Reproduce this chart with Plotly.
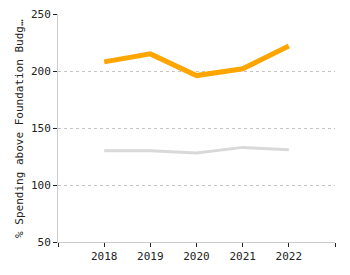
import plotly.graph_objects as go

years = [2018, 2019, 2020, 2021, 2022]
series_orange = [208, 215, 196, 202, 222]
series_gray = [130, 130, 128, 133, 131]
y_ticks = [50, 100, 150, 200, 250]
x_ticks = [2017, 2018, 2019, 2020, 2021, 2022, 2023]
x_ticktext = ["", "2018", "2019", "2020", "2021", "2022", ""]
y_title = "% Spending above Foundation Budg…"

fig = go.Figure()
fig.add_trace(go.Scatter(x=years, y=series_gray, mode="lines",
                         line=dict(color="#D9D9D9", width=3), showlegend=False))
fig.add_trace(go.Scatter(x=years, y=series_orange, mode="lines",
                         line=dict(color="#FFA500", width=5), showlegend=False))

fig.update_layout(
    width=350, height=275,
    margin=dict(l=58, r=15, t=14, b=33),
    paper_bgcolor="white", plot_bgcolor="white",
    font=dict(family="DejaVu Sans Mono", size=11, color="#222"),
    xaxis=dict(range=[2017, 2023], tickvals=x_ticks, ticktext=x_ticktext,
               showgrid=False, zeroline=False, showline=True, linecolor="#CCCCCC",
               ticks="outside", ticklen=4, tickcolor="#222", automargin=False),
    yaxis=dict(range=[50, 250], tickvals=y_ticks, showgrid=True,
               gridcolor="#C4C4C4", griddash="dot", gridwidth=1, zeroline=False,
               showline=True, linecolor="#CCCCCC", ticks="outside", ticklen=4,
               tickcolor="#222", automargin=False),
    annotations=[dict(text=y_title, textangle=-90, xref="paper", yref="paper",
                      x=-0.141, y=0.5, xanchor="center", yanchor="middle",
                      showarrow=False, font=dict(size=11, color="#222"))],
)
fig.write_html("out.html")
